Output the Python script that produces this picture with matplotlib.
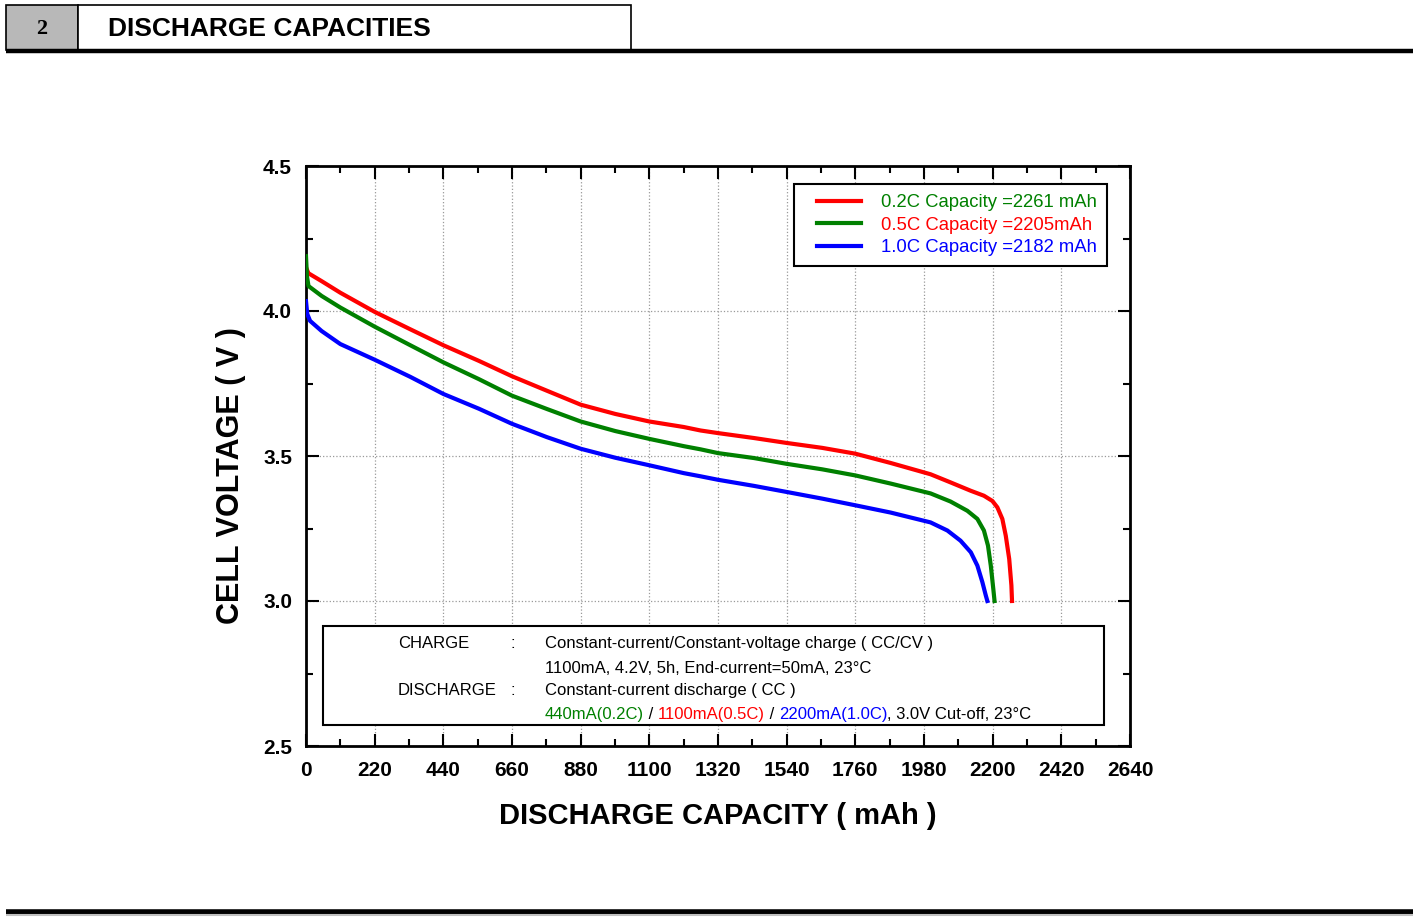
import matplotlib
matplotlib.use("Agg")
import matplotlib.pyplot as plt
from matplotlib.patches import Rectangle
from matplotlib.lines import Line2D
from matplotlib.legend_handler import HandlerLine2D

plt.rcParams['font.family'] = ['Liberation Sans', 'DejaVu Sans']

# discharge curves (capacity in mAh, voltage in V)
cap_02c = [0, 8, 50, 110, 220, 334, 440, 554, 660, 772, 880, 991, 1100, 1210,
           1264, 1320, 1435, 1540, 1654, 1760, 1873, 2001, 2065, 2130, 2172,
           2199, 2215, 2231, 2242, 2253, 2260, 2262]
volt_02c = [4.15, 4.13, 4.103, 4.063, 3.997, 3.937, 3.882, 3.828, 3.775, 3.725,
            3.677, 3.645, 3.619, 3.600, 3.588, 3.579, 3.562, 3.545, 3.528, 3.508,
            3.476, 3.437, 3.409, 3.380, 3.363, 3.345, 3.323, 3.283, 3.225, 3.145,
            3.054, 3.0]

cap_05c = [0, 3, 8, 50, 110, 220, 334, 440, 554, 660, 772, 880, 991, 1100, 1210,
           1264, 1320, 1435, 1540, 1654, 1760, 1873, 2001, 2065, 2119, 2151,
           2172, 2185, 2194, 2202, 2206]
volt_05c = [4.189, 4.12, 4.086, 4.052, 4.012, 3.946, 3.882, 3.823, 3.765, 3.708,
            3.662, 3.619, 3.586, 3.559, 3.534, 3.523, 3.510, 3.493, 3.473, 3.454,
            3.433, 3.405, 3.371, 3.343, 3.311, 3.283, 3.243, 3.191, 3.122, 3.042, 3.0]

cap_10c = [0, 4, 13, 50, 110, 220, 334, 440, 554, 660, 772, 880, 991, 1100, 1210,
           1264, 1320, 1435, 1540, 1654, 1760, 1873, 2001, 2055, 2097, 2130,
           2151, 2167, 2178, 2183]
volt_10c = [4.034, 3.99, 3.966, 3.931, 3.886, 3.832, 3.773, 3.714, 3.663, 3.611,
            3.565, 3.525, 3.494, 3.468, 3.441, 3.430, 3.418, 3.397, 3.376, 3.353,
            3.330, 3.305, 3.271, 3.243, 3.208, 3.168, 3.122, 3.065, 3.019, 3.0]

legend_labels = ['0.2C Capacity =2261 mAh', '0.5C Capacity =2205mAh', '1.0C Capacity =2182 mAh']
legend_text_colors = ['#008000', '#ff0000', '#0000ff']
line_colors = ['#ff0000', '#008000', '#0000ff']

x_ticks = list(range(0, 2641, 220))
y_ticks = [2.5, 3.0, 3.5, 4.0, 4.5]

W, H = 1416, 917
fig = plt.figure(figsize=(W / 100, H / 100), dpi=100)

# page header / footer drawn in pixel coords
deco = fig.add_axes([0, 0, 1, 1])
deco.set_xlim(0, W)
deco.set_ylim(H, 0)
deco.axis('off')
deco.add_patch(Rectangle((6, 5), 72, 45, facecolor='#b8b8b8', edgecolor='black', lw=1.2))
deco.add_patch(Rectangle((78, 5), 553, 45, facecolor='white', edgecolor='black', lw=1.2))
deco.plot([6, 1413], [51, 51], color='black', lw=3.2, solid_capstyle='butt')
deco.text(42, 29, '2', family='Liberation Serif', fontweight='bold', fontsize=16,
          ha='center', va='center')
deco.text(108, 29, 'DISCHARGE CAPACITIES', fontweight='bold', fontsize=19,
          ha='left', va='center')
deco.plot([6, 1413], [911.5, 911.5], color='black', lw=4, solid_capstyle='butt')
deco.plot([6, 1413], [915, 915], color='#c0c0c0', lw=1.5, solid_capstyle='butt')

ax = fig.add_axes([306 / W, 1 - 746 / H, 824 / W, 580 / H])
ax.plot(cap_02c, volt_02c, color=line_colors[0], lw=3, label=legend_labels[0],
        solid_joinstyle='round', zorder=3)
ax.plot(cap_05c, volt_05c, color=line_colors[1], lw=3, label=legend_labels[1],
        solid_joinstyle='round', zorder=3)
ax.plot(cap_10c, volt_10c, color=line_colors[2], lw=3, label=legend_labels[2],
        solid_joinstyle='round', zorder=3)

ax.set_xlim(0, 2640)
ax.set_ylim(2.5, 4.5)
ax.set_xticks(x_ticks)
ax.set_xticks([v + 110 for v in x_ticks[:-1]], minor=True)
ax.set_yticks(y_ticks)
ax.set_yticks([2.75, 3.25, 3.75, 4.25], minor=True)
ax.set_xticklabels([str(v) for v in x_ticks])
ax.set_yticklabels(['%.1f' % v for v in y_ticks])
ax.tick_params(which='both', direction='in', top=True, right=True, width=1.5)
ax.tick_params(which='major', length=9)
ax.tick_params(which='minor', length=5)
ax.tick_params(axis='x', which='major', pad=11, labelsize=15)
ax.tick_params(axis='y', which='major', pad=10, labelsize=15)
for lab in ax.get_xticklabels() + ax.get_yticklabels():
    lab.set_fontweight('bold')
for sp in ax.spines.values():
    sp.set_linewidth(2)
ax.grid(True, which='major', color='#999999', linestyle=':', lw=0.9)

ax.set_xlabel('DISCHARGE CAPACITY ( mAh )', fontsize=21, fontweight='bold')
ax.set_ylabel('CELL VOLTAGE ( V )', fontsize=22, fontweight='bold')
ax.xaxis.set_label_coords(0.5, -0.097)
ax.yaxis.set_label_coords(-0.073, 0.466)

leg = ax.legend(loc='upper right', bbox_to_anchor=(0.972, 0.969), fontsize=13.3,
                frameon=True, fancybox=False, edgecolor='black', framealpha=1,
                handlelength=3.07, handletextpad=1.08, borderpad=0.55,
                labelspacing=0.3, borderaxespad=0,
                handler_map={Line2D: HandlerLine2D(xpad=0.69)})
leg.get_frame().set_linewidth(1.5)
for txt, col in zip(leg.get_texts(), legend_text_colors):
    txt.set_color(col)

# test-condition box
ax.add_patch(Rectangle((0.0206, 0.036), 0.9478, 0.171, transform=ax.transAxes,
                       facecolor='white', edgecolor='black', lw=1.5, zorder=4))
fs = 12
ax.text(295, 2.855, 'CHARGE', fontsize=fs, va='center', zorder=5)
ax.text(654, 2.855, ':', fontsize=fs, va='center', zorder=5)
ax.text(766, 2.855, 'Constant-current/Constant-voltage charge ( CC/CV )', fontsize=fs,
        va='center', zorder=5)
ax.text(766, 2.768, '1100mA, 4.2V, 5h, End-current=50mA, 23°C', fontsize=fs,
        va='center', zorder=5)
ax.text(295, 2.693, 'DISCHARGE', fontsize=fs, va='center', zorder=5)
ax.text(654, 2.693, ':', fontsize=fs, va='center', zorder=5)
ax.text(766, 2.693, 'Constant-current discharge ( CC )', fontsize=fs, va='center', zorder=5)

parts = [('440mA(0.2C)', '#008000'), (' / ', 'black'), ('1100mA(0.5C)', '#ff0000'),
         (' / ', 'black'), ('2200mA(1.0C)', '#0000ff'), (', 3.0V Cut-off, 23°C', 'black')]
prev = ax.text(766, 2.610, parts[0][0], color=parts[0][1], fontsize=fs, va='center', zorder=5)
for s, c in parts[1:]:
    prev = ax.annotate(s, xy=(1, 0), xycoords=prev, va='bottom', ha='left',
                       color=c, fontsize=fs, zorder=5)

fig.savefig('out.png', dpi=100)
